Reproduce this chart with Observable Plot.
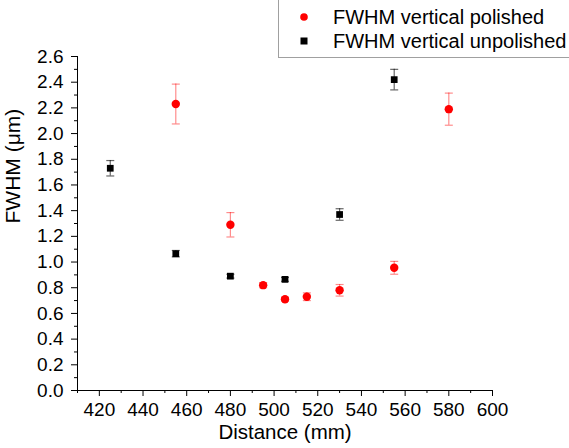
<!DOCTYPE html>
<html>
<head>
<meta charset="utf-8">
<script src="https://cdn.jsdelivr.net/npm/d3@7"></script>
<script src="https://cdn.jsdelivr.net/npm/@observablehq/plot@0.6"></script>
<style>
  html, body { margin: 0; padding: 0; background: #fff; overflow: hidden; }
  #wrap { position: relative; width: 569px; height: 448px; font-family: "Liberation Sans", Arial, sans-serif; }
  #legend { position: absolute; left: 278px; top: -1px; width: 320px; height: 57px; border: 1px solid #a0a0a0; background: #fff; font-size: 20px; color: #000; }
  .row { position: absolute; left: 0; height: 24px; line-height: 24px; white-space: nowrap; }
  .row svg { position: absolute; left: 18px; top: 5px; }
  .row span { position: absolute; left: 54px; top: 0; }
</style>
</head>
<body>
<div id="wrap">
  <div id="chart"></div>
  <div id="legend"></div>
</div>
<script>
// ---- data ----
const seriesNames = ["FWHM vertical polished", "FWHM vertical unpolished"];
const seriesColors = ["#ff0000", "#000000"];

const polishedX = [455, 480, 495, 505, 515, 530, 555, 580];
const polishedY = [2.23, 1.29, 0.82, 0.71, 0.73, 0.78, 0.955, 2.19];
const polishedErr = [0.155, 0.095, 0.02, 0.015, 0.03, 0.045, 0.05, 0.125];

const unpolishedX = [425, 455, 480, 505, 530, 555];
const unpolishedY = [1.73, 1.065, 0.89, 0.865, 1.37, 2.42];
const unpolishedErr = [0.06, 0.025, 0.015, 0.015, 0.045, 0.08];

const xTicks = [420, 440, 460, 480, 500, 520, 540, 560, 580, 600];
const xMinorTicks = [410, 430, 450, 470, 490, 510, 530, 550, 570, 590];
const yTicks = [0.0, 0.2, 0.4, 0.6, 0.8, 1.0, 1.2, 1.4, 1.6, 1.8, 2.0, 2.2, 2.4, 2.6];
const yMinorTicks = [0.1, 0.3, 0.5, 0.7, 0.9, 1.1, 1.3, 1.5, 1.7, 1.9, 2.1, 2.3, 2.5];

// ---- build tables ----
const polished = polishedX.map((x, i) => ({x, y: polishedY[i], lo: polishedY[i] - polishedErr[i], hi: polishedY[i] + polishedErr[i]}));
const unpolished = unpolishedX.map((x, i) => ({x, y: unpolishedY[i], lo: unpolishedY[i] - unpolishedErr[i], hi: unpolishedY[i] + unpolishedErr[i]}));

const capSymbol = { draw(ctx, size) { ctx.moveTo(-4, 0); ctx.lineTo(4, 0); } };

function errMarks(data, color, opacity) {
  return [
    Plot.ruleX(data, {x: "x", y1: "lo", y2: "hi", stroke: color, strokeOpacity: opacity, strokeWidth: 1.2}),
    Plot.dot(data, {x: "x", y: "lo", symbol: capSymbol, stroke: color, strokeOpacity: opacity, strokeWidth: 1.2, fill: "none"}),
    Plot.dot(data, {x: "x", y: "hi", symbol: capSymbol, stroke: color, strokeOpacity: opacity, strokeWidth: 1.2, fill: "none"})
  ];
}

const chart = Plot.plot({
  width: 569,
  height: 448,
  marginLeft: 77,
  marginRight: 77,
  marginTop: 56,
  marginBottom: 58,
  style: {fontFamily: "'Liberation Sans', Arial, sans-serif", fontSize: "19px", color: "#000", background: "#fff"},
  x: {domain: [410, 600]},
  y: {domain: [0, 2.6]},
  marks: [
    Plot.axisX({ticks: xTicks, tickSize: 6, tickPadding: 6, tickFormat: d => String(d), label: null, fontSize: 19}),
    Plot.axisX({ticks: xMinorTicks, tickSize: 3, tickFormat: () => "", label: null}),
    Plot.axisY({ticks: yTicks, tickSize: 6, tickPadding: 8, tickFormat: d3.format(".1f"), label: null, fontSize: 19}),
    Plot.axisY({ticks: yMinorTicks, tickSize: 3, tickFormat: () => "", label: null}),
    Plot.ruleX([410], {stroke: "#000"}),
    Plot.ruleY([0], {stroke: "#000"}),
    Plot.text(["Distance (mm)"], {frameAnchor: "bottom", dy: 48, fontSize: 20.5, fill: "#000"}),
    Plot.text(["FWHM (μm)"], {frameAnchor: "left", dx: -64, rotate: -90, fontSize: 21, fill: "#000"}),
    ...errMarks(polished, "#ff0000", 0.45),
    ...errMarks(unpolished, "#000000", 0.6),
    Plot.dot(polished, {x: "x", y: "y", r: 4.2, fill: seriesColors[0], stroke: "none"}),
    Plot.dot(unpolished, {x: "x", y: "y", symbol: "square", r: 3.8, fill: seriesColors[1], stroke: "none"})
  ]
});
document.getElementById("chart").appendChild(chart);

// ---- legend ----
const legend = document.getElementById("legend");
seriesNames.forEach((name, i) => {
  const row = document.createElement("div");
  row.className = "row";
  row.style.top = (i === 0 ? 5 : 29) + "px";
  const icon = i === 0
    ? `<svg width="14" height="14"><circle cx="7" cy="7" r="3.8" fill="${seriesColors[i]}"/></svg>`
    : `<svg width="14" height="14"><rect x="3.5" y="3.5" width="7" height="7" fill="${seriesColors[i]}"/></svg>`;
  row.innerHTML = icon + `<span>${name}</span>`;
  legend.appendChild(row);
});
</script>
</body>
</html>
